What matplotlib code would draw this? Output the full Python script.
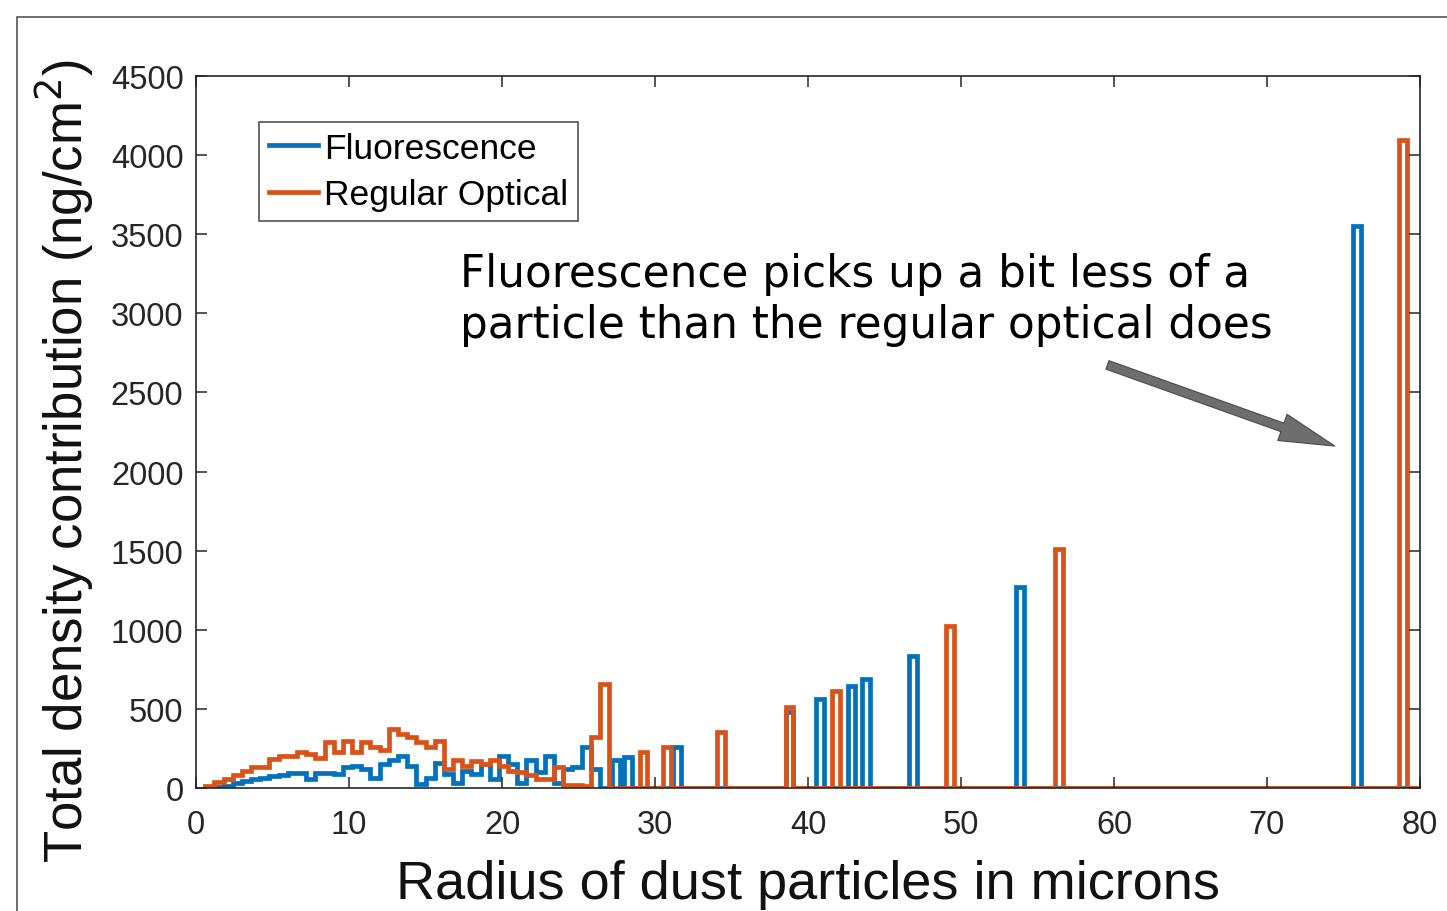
import matplotlib
matplotlib.use("Agg")
import matplotlib.pyplot as plt
from matplotlib.patches import Rectangle

# ---------------- data ----------------
series_names = ["Fluorescence", "Regular Optical"]

# contiguous low-radius region (bin start, bin width in microns)
low_start = 0.6
low_width = 0.6
fluor_low = [0, 5, 15, 30, 45, 60, 62, 75, 80, 95, 95, 60, 95, 95, 90, 130,
             140, 120, 65, 150, 175, 200, 140, 25, 65, 160, 90, 30, 110, 90,
             150, 60, 200, 150, 30, 180, 100, 200, 30, 120, 130, 260, 120, 0]
optical_low = [15, 36, 57, 80, 110, 131, 131, 185, 200, 205, 225, 215, 190,
               290, 230, 300, 230, 290, 257, 240, 375, 340, 320, 290, 260,
               300, 120, 180, 140, 170, 150, 175, 140, 110, 100, 80, 60, 60,
               130, 20, 20, 10, 320, 655]

# isolated spikes at larger radii: centre radius, value
spike_width = 0.5
fluor_spike_r = [27.45, 28.25, 31.45, 38.8, 40.8, 42.85, 43.8, 46.85, 53.85, 75.9]
fluor_spike_v = [175, 195, 256, 480, 563, 646, 689, 836, 1268, 3549]
optical_spike_r = [29.25, 30.8, 34.3, 38.8, 41.85, 49.3, 56.4, 78.9]
optical_spike_v = [225, 256, 351, 509, 615, 1026, 1511, 4096]

x_max = 80
x_ticks = [0, 10, 20, 30, 40, 50, 60, 70, 80]
y_ticks = [0, 500, 1000, 1500, 2000, 2500, 3000, 3500, 4000, 4500]

annotation = "Fluorescence picks up a bit less of a\nparticle than the regular optical does"

blue = "#0072BD"
orange = "#D95319"


def build(low_vals, spike_r, spike_v):
    edges = [low_start + i * low_width for i in range(len(low_vals) + 1)]
    vals = list(low_vals)
    for c, v in zip(spike_r, spike_v):
        left, right = c - spike_width / 2, c + spike_width / 2
        if left > edges[-1]:
            vals.append(0)
            edges.append(left)
        vals.append(v)
        edges.append(right)
    vals.append(0)
    edges.append(x_max)
    return vals, edges


W, H = 1447, 912
fig = plt.figure(figsize=(W / 100, H / 100), dpi=100)
fig.patch.set_facecolor("white")
ax = fig.add_axes([196 / W, 1 - 789 / H, (1420 - 196) / W, (789 - 77) / H])

fv, fe = build(fluor_low, fluor_spike_r, fluor_spike_v)
ov, oe = build(optical_low, optical_spike_r, optical_spike_v)
ax.stairs(fv, fe, color=blue, lw=3.4, label=series_names[0], baseline=0)
ax.stairs(ov, oe, color=orange, lw=3.4, label=series_names[1], baseline=0)

ax.set_xlim(0, 80)
ax.set_ylim(0, 4500)
ax.set_xticks(x_ticks)
ax.set_yticks(y_ticks)
font = "Liberation Sans"
ax.set_xticklabels([str(t) for t in x_ticks], fontsize=23.5, family=font, color="#262626")
ax.set_yticklabels([str(t) for t in y_ticks], fontsize=23.5, family=font, color="#262626")
ax.tick_params(direction="in", length=8, width=1.1, top=True, right=True, pad=9, colors="#262626")
ax.tick_params(axis="x", pad=15)
for s in ax.spines.values():
    s.set_color("#262626")
    s.set_linewidth(1.2)

ax.set_xlabel("Radius of dust particles in microns", fontsize=39, family=font, color="#111111", labelpad=14)
ax.set_ylabel("Total density contribution (ng/cm$^2$)", fontsize=38, family=font, color="#111111")
ax.yaxis.set_label_coords(-0.082, 0.461)

leg = ax.legend(loc="upper left", bbox_to_anchor=(0.0515, 0.935), prop={"family": font, "size": 25.5},
                handlelength=1.4, handletextpad=0.17, borderpad=0.27, labelspacing=0.38,
                frameon=True, fancybox=False, borderaxespad=0)
leg.get_frame().set_edgecolor("#262626")
leg.get_frame().set_linewidth(1.2)

ax.text(17.25, 3091, annotation, fontsize=31.5, family="DejaVu Sans", va="center", ha="left",
        color="black", linespacing=1.26)
ax.annotate("", xy=(74.6, 2155), xytext=(59.4, 2680),
            arrowprops=dict(arrowstyle="simple,head_length=4.0,head_width=2.0,tail_width=0.65",
                            mutation_scale=10, color="#6e6e6e", ec="#4a4a4a", lw=0.8))

fig.add_artist(Rectangle((17 / W, -0.1), 1.2, 1 - 18 / H + 0.1, transform=fig.transFigure,
                         fill=False, ec="#555555", lw=1.2))

fig.savefig("out.png", dpi=100, facecolor="white")
